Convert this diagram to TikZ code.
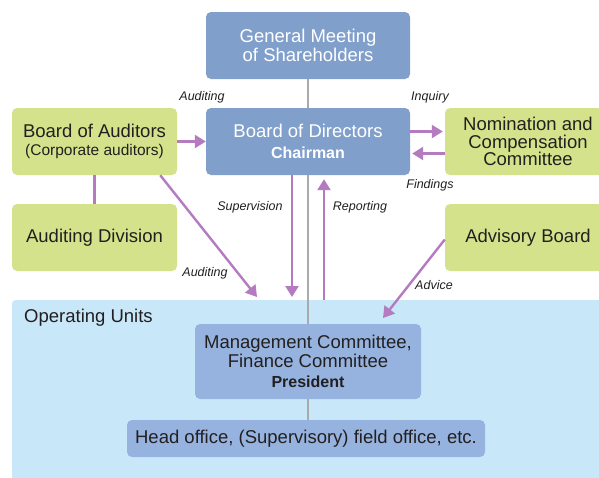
\documentclass[tikz,border=0pt]{standalone}
\usepackage{fontspec}
\setmainfont{Liberation Sans}
\usetikzlibrary{arrows.meta}

\definecolor{govblue}{HTML}{809FCB}
\definecolor{opblue}{HTML}{95B3DE}
\definecolor{opbg}{HTML}{C8E8FA}
\definecolor{boardgreen}{HTML}{D4E38B}
\definecolor{flowpurple}{HTML}{B57BC0}
\definecolor{spine}{HTML}{A8AAAD}
\definecolor{ink}{HTML}{231F20}

\newcommand{\boxfont}{\fontsize{18.5}{18.5}\selectfont}
\newcommand{\subfont}{\fontsize{15.5}{17}\selectfont}
\newcommand{\titlefont}{\fontsize{16}{18}\selectfont\bfseries}
\newcommand{\flowfont}{\fontsize{12.5}{14}\selectfont\itshape}

\tikzset{
  govbox/.style={rounded corners=5pt, fill=govblue, text=white, align=center,
    font=\boxfont, inner sep=0pt, minimum height=67pt},
  greenbox/.style={rounded corners=5pt, fill=boardgreen, text=ink, align=center,
    font=\boxfont, inner sep=0pt, minimum height=67pt},
  opbox/.style={rounded corners=5pt, fill=opblue, text=ink, align=center,
    font=\boxfont, inner sep=0pt},
  flow/.style={draw=flowpurple, line width=2.4pt,
    -{Triangle[length=11pt,width=13pt]}},
  tie/.style={draw=flowpurple, line width=2.4pt},
  spineline/.style={draw=spine, line width=2.4pt},
  flowlabel/.style={font=\flowfont, text=ink, inner sep=0pt}
}

\begin{document}
\begin{tikzpicture}[x=1pt, y=-1pt]
    \useasboundingbox (0,0) rectangle (599,477);

    % operating units background
    \node[fill=opbg, rounded corners=3pt, minimum width=598pt, minimum height=190pt, inner sep=0pt,
      anchor=north west] (ops) at (12,300) {};
    \node[anchor=west, font=\boxfont, text=ink, inner sep=0pt] (opstitle) at (24,318) {Operating Units};

    % governance boxes
    \node[govbox, minimum width=204pt] (gm) at (308,45.5) {General Meeting\\of Shareholders};
    \node[govbox, minimum width=204pt] (bod) at (308,141.5) {Board of Directors\\[3pt]{\titlefont Chairman}};

    % auditors and advisory bodies
    \node[greenbox, minimum width=165pt] (boa) at (94.5,141.5) {Board of Auditors\\{\subfont (Corporate auditors)}};
    \node[greenbox, minimum width=165pt] (auddiv) at (94.5,237.5) {Auditing Division};
    \node[greenbox, minimum width=166pt, font=\fontsize{18.5}{17.5}\selectfont] (nom) at (528,141.5) {Nomination and\\Compensation\\Committee};
    \node[greenbox, minimum width=166pt] (adv) at (528,237.5) {Advisory Board};

    % executive side
    \node[opbox, minimum width=226pt, minimum height=75pt] (mgmt) at (308,361.5) {Management Committee,\\Finance Committee\\[2pt]{\titlefont President}};
    \node[opbox, minimum width=358pt, minimum height=37pt] (head) at (306,438.5) {Head office, (Supervisory) field office, etc.};

    % grey spine
    \draw[spineline] (gm.south) -- (bod.north);
    \draw[spineline] (bod.south) -- (mgmt.north);
    \draw[spineline] (mgmt.south) -- (mgmt.south |- head.north);

    % free arrow ends
    \coordinate (audtip) at (257,297);
    \coordinate (suptip) at (292,297);
    \coordinate (repfoot) at (324,300);
    \coordinate (advtip) at (383,318);

    % purple flows
    \draw[flow] (boa.east) -- (bod.west);
    \draw[tie] (boa.south) -- (auddiv.north);
    \draw[flow] ([xshift=-17pt]boa.south east) -- (audtip);
    \draw[flow] ([xshift=-16pt]bod.south) -- (suptip);
    \draw[flow, shorten >=4pt] (repfoot) -- ([xshift=16pt]bod.south);
    \draw[flow, shorten >=2pt] ([yshift=10pt]bod.east) -- ([yshift=10pt]nom.west);
    \draw[flow, shorten >=2pt] ([yshift=-12pt]nom.west) -- ([yshift=-12pt]bod.east);
    \draw[flow] ([yshift=-2pt]adv.west) -- (advtip);

    % flow labels
    \node[flowlabel] (lblaud) at (202,97) {Auditing};
    \node[flowlabel] (lblinq) at (430,97) {Inquiry};
    \node[flowlabel] (lblfind) at (430,185) {Findings};
    \node[flowlabel] (lblsup) at (250,207) {Supervision};
    \node[flowlabel] (lblrep) at (360,207) {Reporting};
    \node[flowlabel] (lblaud2) at (205,273) {Auditing};
    \node[flowlabel] (lbladv) at (434,285) {Advice};
\end{tikzpicture}
\end{document}
